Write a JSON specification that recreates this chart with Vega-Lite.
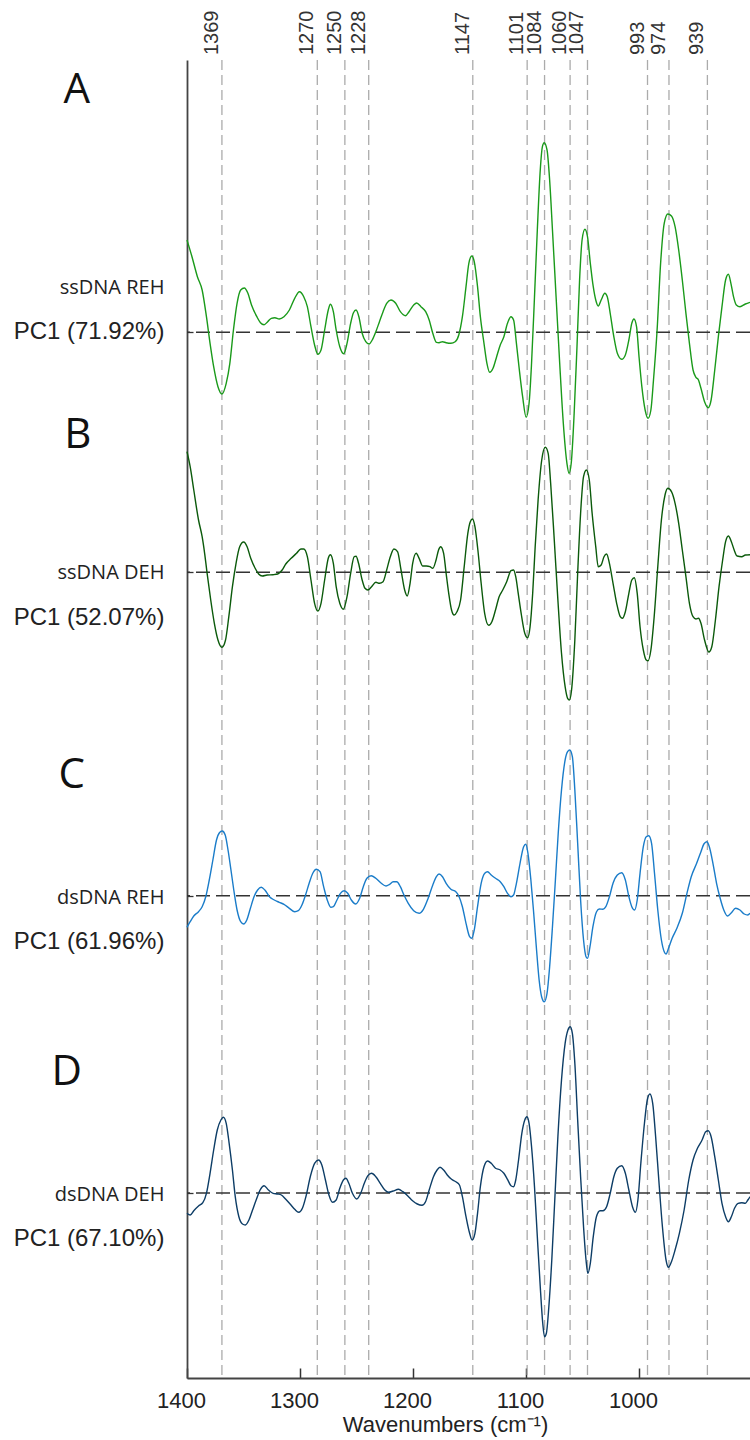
{
  "$schema": "https://vega.github.io/schema/vega-lite/v6.json",
  "width": 563,
  "height": 1318,
  "autosize": {"type": "none"},
  "padding": {"left": 187, "top": 60, "right": 0, "bottom": 62},
  "config": {"view": {"stroke": null}, "font": "Liberation Sans"},
  "datasets": {
    "peaks": [
      {"x": 1369.1, "label": "1369"}, {"x": 1284.7, "label": "1270"}, {"x": 1260.3, "label": "1250"},
      {"x": 1239.2, "label": "1228"}, {"x": 1147.1, "label": "1147"}, {"x": 1099.0, "label": "1101"},
      {"x": 1083.6, "label": "1084"}, {"x": 1061.0, "label": "1060"}, {"x": 1045.6, "label": "1047"},
      {"x": 992.5, "label": "993"}, {"x": 973.5, "label": "974"}, {"x": 939.5, "label": "939"}
    ],
    "base": [
      {"s": "A", "y": 10.457}, {"s": "B", "y": 8.057}, {"s": "C", "y": 4.823}, {"s": "D", "y": 1.85}
    ],
    "names": [
      {"t": "ssDNA REH", "y": 10.90}, {"t": "ssDNA DEH", "y": 8.05},
      {"t": "dsDNA REH", "y": 4.80}, {"t": "dsDNA DEH", "y": 1.83}
    ],
    "pcs": [
      {"t": "PC1 (71.92%)", "y": 10.46}, {"t": "PC1 (52.07%)", "y": 7.60},
      {"t": "PC1 (61.96%)", "y": 4.36}, {"t": "PC1 (67.10%)", "y": 1.39}
    ],
    "letters": [
      {"t": "A", "x": 1497.5, "y": 12.88}, {"t": "B", "x": 1496.7, "y": 9.43},
      {"t": "C", "x": 1502.0, "y": 6.03}, {"t": "D", "x": 1506.4, "y": 3.06}
    ],
    "spec": [
      {"s":"A","x":1400,"y":11.38},{"s":"A","x":1395.6,"y":11.213},{"s":"A","x":1390.8,"y":11.013},{"s":"A","x":1386.6,"y":10.88},{"s":"A","x":1382.8,"y":10.613},{"s":"A","x":1379.6,"y":10.347},{"s":"A","x":1376.4,"y":10.113},{"s":"A","x":1372.6,"y":9.913},{"s":"A","x":1369.1,"y":9.84},{"s":"A","x":1365.3,"y":9.947},{"s":"A","x":1362.1,"y":10.147},{"s":"A","x":1358.9,"y":10.48},{"s":"A","x":1355.7,"y":10.747},{"s":"A","x":1352.5,"y":10.88},{"s":"A","x":1349.3,"y":10.9},{"s":"A","x":1346.1,"y":10.847},{"s":"A","x":1342.9,"y":10.73},{"s":"A","x":1338.2,"y":10.613},{"s":"A","x":1335.0,"y":10.553},{"s":"A","x":1331.8,"y":10.533},{"s":"A","x":1328.6,"y":10.563},{"s":"A","x":1325.4,"y":10.597},{"s":"A","x":1322.2,"y":10.603},{"s":"A","x":1318.4,"y":10.59},{"s":"A","x":1314.2,"y":10.613},{"s":"A","x":1309.4,"y":10.68},{"s":"A","x":1304.7,"y":10.797},{"s":"A","x":1300.5,"y":10.863},{"s":"A","x":1296.7,"y":10.813},{"s":"A","x":1293.5,"y":10.713},{"s":"A","x":1290.3,"y":10.513},{"s":"A","x":1287.1,"y":10.33},{"s":"A","x":1284.2,"y":10.237},{"s":"A","x":1281.4,"y":10.28},{"s":"A","x":1278.2,"y":10.48},{"s":"A","x":1275.0,"y":10.68},{"s":"A","x":1273.1,"y":10.737},{"s":"A","x":1270.5,"y":10.663},{"s":"A","x":1268.0,"y":10.48},{"s":"A","x":1264.8,"y":10.313},{"s":"A","x":1261.3,"y":10.243},{"s":"A","x":1258.4,"y":10.347},{"s":"A","x":1255.2,"y":10.547},{"s":"A","x":1252.7,"y":10.653},{"s":"A","x":1250.4,"y":10.68},{"s":"A","x":1247.9,"y":10.613},{"s":"A","x":1245.0,"y":10.447},{"s":"A","x":1241.8,"y":10.363},{"s":"A","x":1238.9,"y":10.34},{"s":"A","x":1236.1,"y":10.38},{"s":"A","x":1232.9,"y":10.463},{"s":"A","x":1229.7,"y":10.563},{"s":"A","x":1226.5,"y":10.663},{"s":"A","x":1223.3,"y":10.747},{"s":"A","x":1219.5,"y":10.78},{"s":"A","x":1215.3,"y":10.747},{"s":"A","x":1211.2,"y":10.663},{"s":"A","x":1206.7,"y":10.623},{"s":"A","x":1203.5,"y":10.663},{"s":"A","x":1199.4,"y":10.73},{"s":"A","x":1196.8,"y":10.75},{"s":"A","x":1193.0,"y":10.713},{"s":"A","x":1188.8,"y":10.663},{"s":"A","x":1185.7,"y":10.58},{"s":"A","x":1182.5,"y":10.447},{"s":"A","x":1179.3,"y":10.357},{"s":"A","x":1177.0,"y":10.353},{"s":"A","x":1173.9,"y":10.363},{"s":"A","x":1170.7,"y":10.353},{"s":"A","x":1166.5,"y":10.347},{"s":"A","x":1162.7,"y":10.363},{"s":"A","x":1159.5,"y":10.43},{"s":"A","x":1156.3,"y":10.613},{"s":"A","x":1153.1,"y":10.913},{"s":"A","x":1150.6,"y":11.147},{"s":"A","x":1148.0,"y":11.22},{"s":"A","x":1145.8,"y":11.163},{"s":"A","x":1142.9,"y":10.913},{"s":"A","x":1140.4,"y":10.613},{"s":"A","x":1137.2,"y":10.347},{"s":"A","x":1134.6,"y":10.147},{"s":"A","x":1132.1,"y":10.057},{"s":"A","x":1129.2,"y":10.097},{"s":"A","x":1126.0,"y":10.213},{"s":"A","x":1122.8,"y":10.33},{"s":"A","x":1119.6,"y":10.413},{"s":"A","x":1116.4,"y":10.547},{"s":"A","x":1113.3,"y":10.613},{"s":"A","x":1111.0,"y":10.58},{"s":"A","x":1108.5,"y":10.347},{"s":"A","x":1105.9,"y":10.08},{"s":"A","x":1103.0,"y":9.813},{"s":"A","x":1099.9,"y":9.607},{"s":"A","x":1097.3,"y":9.747},{"s":"A","x":1095.1,"y":10.147},{"s":"A","x":1092.5,"y":10.813},{"s":"A","x":1090.0,"y":11.48},{"s":"A","x":1087.4,"y":12.08},{"s":"A","x":1085.5,"y":12.313},{"s":"A","x":1083.9,"y":12.353},{"s":"A","x":1081.4,"y":12.28},{"s":"A","x":1079.1,"y":11.98},{"s":"A","x":1076.6,"y":11.48},{"s":"A","x":1073.4,"y":10.813},{"s":"A","x":1070.2,"y":10.147},{"s":"A","x":1067.0,"y":9.547},{"s":"A","x":1063.8,"y":9.147},{"s":"A","x":1061.9,"y":9.047},{"s":"A","x":1060.0,"y":9.147},{"s":"A","x":1057.4,"y":9.647},{"s":"A","x":1054.9,"y":10.313},{"s":"A","x":1052.6,"y":10.98},{"s":"A","x":1050.4,"y":11.38},{"s":"A","x":1047.9,"y":11.487},{"s":"A","x":1045.6,"y":11.413},{"s":"A","x":1043.1,"y":11.147},{"s":"A","x":1040.5,"y":10.913},{"s":"A","x":1038.3,"y":10.78},{"s":"A","x":1036.1,"y":10.72},{"s":"A","x":1033.5,"y":10.78},{"s":"A","x":1030.3,"y":10.847},{"s":"A","x":1028.1,"y":10.813},{"s":"A","x":1025.5,"y":10.647},{"s":"A","x":1022.3,"y":10.413},{"s":"A","x":1019.2,"y":10.247},{"s":"A","x":1015.3,"y":10.187},{"s":"A","x":1012.1,"y":10.23},{"s":"A","x":1009.0,"y":10.38},{"s":"A","x":1006.4,"y":10.547},{"s":"A","x":1004.5,"y":10.59},{"s":"A","x":1002.2,"y":10.513},{"s":"A","x":1000.0,"y":10.213},{"s":"A","x":997.5,"y":9.913},{"s":"A","x":994.6,"y":9.68},{"s":"A","x":992.0,"y":9.597},{"s":"A","x":989.5,"y":9.68},{"s":"A","x":987.2,"y":9.98},{"s":"A","x":984.0,"y":10.48},{"s":"A","x":980.9,"y":11.147},{"s":"A","x":977.7,"y":11.547},{"s":"A","x":974.5,"y":11.64},{"s":"A","x":971.3,"y":11.62},{"s":"A","x":968.1,"y":11.513},{"s":"A","x":964.9,"y":11.28},{"s":"A","x":961.7,"y":10.98},{"s":"A","x":958.5,"y":10.647},{"s":"A","x":955.4,"y":10.347},{"s":"A","x":952.2,"y":10.08},{"s":"A","x":949.6,"y":10.007},{"s":"A","x":947.4,"y":9.98},{"s":"A","x":945.2,"y":9.897},{"s":"A","x":942.0,"y":9.763},{"s":"A","x":938.8,"y":9.703},{"s":"A","x":936.2,"y":9.78},{"s":"A","x":933.0,"y":10.08},{"s":"A","x":929.8,"y":10.413},{"s":"A","x":926.6,"y":10.713},{"s":"A","x":923.4,"y":10.98},{"s":"A","x":920.9,"y":11.037},{"s":"A","x":918.7,"y":10.947},{"s":"A","x":916.4,"y":10.813},{"s":"A","x":913.9,"y":10.73},{"s":"A","x":910.7,"y":10.713},{"s":"A","x":905.9,"y":10.74},{"s":"A","x":901.8,"y":10.757},
      {"s":"B","x":1400,"y":9.263},{"s":"B","x":1397.2,"y":9.113},{"s":"B","x":1394.0,"y":8.88},{"s":"B","x":1389.8,"y":8.58},{"s":"B","x":1386.6,"y":8.413},{"s":"B","x":1384.4,"y":8.247},{"s":"B","x":1382.2,"y":8.047},{"s":"B","x":1379.0,"y":7.78},{"s":"B","x":1375.8,"y":7.547},{"s":"B","x":1372.6,"y":7.38},{"s":"B","x":1369.1,"y":7.307},{"s":"B","x":1365.9,"y":7.38},{"s":"B","x":1363.0,"y":7.613},{"s":"B","x":1359.8,"y":7.913},{"s":"B","x":1356.6,"y":8.147},{"s":"B","x":1353.4,"y":8.313},{"s":"B","x":1349.9,"y":8.36},{"s":"B","x":1346.8,"y":8.313},{"s":"B","x":1343.6,"y":8.197},{"s":"B","x":1339.7,"y":8.097},{"s":"B","x":1336.6,"y":8.04},{"s":"B","x":1333.4,"y":8.02},{"s":"B","x":1329.2,"y":8.03},{"s":"B","x":1323.8,"y":8.033},{"s":"B","x":1319.7,"y":8.04},{"s":"B","x":1315.8,"y":8.08},{"s":"B","x":1312.6,"y":8.14},{"s":"B","x":1307.8,"y":8.197},{"s":"B","x":1303.1,"y":8.247},{"s":"B","x":1299.2,"y":8.29},{"s":"B","x":1296.7,"y":8.29},{"s":"B","x":1293.5,"y":8.213},{"s":"B","x":1290.3,"y":7.98},{"s":"B","x":1287.1,"y":7.747},{"s":"B","x":1284.2,"y":7.67},{"s":"B","x":1281.4,"y":7.747},{"s":"B","x":1278.2,"y":7.98},{"s":"B","x":1275.0,"y":8.197},{"s":"B","x":1273.1,"y":8.233},{"s":"B","x":1270.5,"y":8.147},{"s":"B","x":1268.0,"y":7.913},{"s":"B","x":1264.8,"y":7.747},{"s":"B","x":1261.6,"y":7.687},{"s":"B","x":1258.4,"y":7.813},{"s":"B","x":1255.2,"y":8.047},{"s":"B","x":1252.0,"y":8.213},{"s":"B","x":1250.4,"y":8.217},{"s":"B","x":1248.2,"y":8.147},{"s":"B","x":1245.0,"y":7.98},{"s":"B","x":1242.5,"y":7.897},{"s":"B","x":1239.9,"y":7.88},{"s":"B","x":1236.7,"y":7.913},{"s":"B","x":1232.9,"y":7.957},{"s":"B","x":1229.7,"y":7.947},{"s":"B","x":1226.5,"y":7.963},{"s":"B","x":1223.3,"y":8.08},{"s":"B","x":1220.1,"y":8.213},{"s":"B","x":1216.9,"y":8.29},{"s":"B","x":1213.7,"y":8.263},{"s":"B","x":1210.6,"y":8.08},{"s":"B","x":1207.4,"y":7.88},{"s":"B","x":1205.1,"y":7.82},{"s":"B","x":1202.6,"y":7.947},{"s":"B","x":1200.3,"y":8.147},{"s":"B","x":1197.2,"y":8.247},{"s":"B","x":1194.6,"y":8.197},{"s":"B","x":1191.4,"y":8.12},{"s":"B","x":1188.2,"y":8.12},{"s":"B","x":1185.0,"y":8.113},{"s":"B","x":1182.5,"y":8.097},{"s":"B","x":1179.6,"y":8.18},{"s":"B","x":1177.4,"y":8.28},{"s":"B","x":1175.5,"y":8.313},{"s":"B","x":1172.9,"y":8.247},{"s":"B","x":1170.7,"y":8.047},{"s":"B","x":1168.4,"y":7.847},{"s":"B","x":1165.9,"y":7.68},{"s":"B","x":1163.6,"y":7.63},{"s":"B","x":1161.1,"y":7.663},{"s":"B","x":1157.9,"y":7.78},{"s":"B","x":1154.7,"y":8.113},{"s":"B","x":1151.5,"y":8.447},{"s":"B","x":1149.3,"y":8.563},{"s":"B","x":1147.4,"y":8.59},{"s":"B","x":1145.2,"y":8.513},{"s":"B","x":1142.6,"y":8.28},{"s":"B","x":1139.7,"y":7.947},{"s":"B","x":1136.6,"y":7.647},{"s":"B","x":1133.0,"y":7.527},{"s":"B","x":1130.2,"y":7.563},{"s":"B","x":1127.0,"y":7.68},{"s":"B","x":1123.8,"y":7.813},{"s":"B","x":1120.6,"y":7.88},{"s":"B","x":1117.1,"y":7.963},{"s":"B","x":1113.3,"y":8.073},{"s":"B","x":1111.0,"y":8.08},{"s":"B","x":1109.1,"y":8.013},{"s":"B","x":1106.9,"y":7.847},{"s":"B","x":1104.3,"y":7.647},{"s":"B","x":1101.1,"y":7.447},{"s":"B","x":1098.6,"y":7.403},{"s":"B","x":1096.4,"y":7.513},{"s":"B","x":1094.1,"y":7.847},{"s":"B","x":1091.9,"y":8.313},{"s":"B","x":1089.3,"y":8.78},{"s":"B","x":1086.1,"y":9.18},{"s":"B","x":1082.9,"y":9.307},{"s":"B","x":1080.4,"y":9.247},{"s":"B","x":1078.2,"y":8.947},{"s":"B","x":1075.0,"y":8.38},{"s":"B","x":1071.8,"y":7.78},{"s":"B","x":1068.6,"y":7.247},{"s":"B","x":1065.4,"y":6.913},{"s":"B","x":1063.2,"y":6.797},{"s":"B","x":1061.6,"y":6.78},{"s":"B","x":1059.7,"y":6.88},{"s":"B","x":1056.8,"y":7.38},{"s":"B","x":1054.3,"y":8.047},{"s":"B","x":1051.7,"y":8.647},{"s":"B","x":1049.1,"y":9.013},{"s":"B","x":1046.6,"y":9.08},{"s":"B","x":1044.0,"y":8.98},{"s":"B","x":1041.5,"y":8.647},{"s":"B","x":1038.3,"y":8.313},{"s":"B","x":1036.1,"y":8.113},{"s":"B","x":1033.5,"y":8.13},{"s":"B","x":1031.0,"y":8.213},{"s":"B","x":1028.7,"y":8.24},{"s":"B","x":1026.2,"y":8.147},{"s":"B","x":1023.0,"y":7.947},{"s":"B","x":1019.8,"y":7.747},{"s":"B","x":1016.6,"y":7.613},{"s":"B","x":1014.7,"y":7.597},{"s":"B","x":1012.1,"y":7.663},{"s":"B","x":1009.0,"y":7.847},{"s":"B","x":1006.4,"y":7.98},{"s":"B","x":1004.2,"y":8.003},{"s":"B","x":1001.6,"y":7.847},{"s":"B","x":999.1,"y":7.513},{"s":"B","x":996.2,"y":7.28},{"s":"B","x":993.6,"y":7.18},{"s":"B","x":992.0,"y":7.173},{"s":"B","x":989.5,"y":7.28},{"s":"B","x":986.6,"y":7.613},{"s":"B","x":983.4,"y":8.113},{"s":"B","x":980.2,"y":8.58},{"s":"B","x":977.0,"y":8.83},{"s":"B","x":974.5,"y":8.897},{"s":"B","x":971.3,"y":8.863},{"s":"B","x":968.1,"y":8.747},{"s":"B","x":964.9,"y":8.547},{"s":"B","x":961.7,"y":8.28},{"s":"B","x":958.5,"y":8.013},{"s":"B","x":955.4,"y":7.747},{"s":"B","x":952.2,"y":7.613},{"s":"B","x":949.6,"y":7.59},{"s":"B","x":947.4,"y":7.597},{"s":"B","x":945.2,"y":7.547},{"s":"B","x":942.0,"y":7.38},{"s":"B","x":938.2,"y":7.26},{"s":"B","x":935.6,"y":7.313},{"s":"B","x":932.4,"y":7.58},{"s":"B","x":929.2,"y":7.913},{"s":"B","x":926.0,"y":8.18},{"s":"B","x":923.4,"y":8.363},{"s":"B","x":920.9,"y":8.42},{"s":"B","x":918.3,"y":8.363},{"s":"B","x":915.8,"y":8.28},{"s":"B","x":913.2,"y":8.22},{"s":"B","x":909.1,"y":8.213},{"s":"B","x":905.9,"y":8.23},{"s":"B","x":901.8,"y":8.233},
      {"s":"C","x":1400,"y":4.507},{"s":"C","x":1397.2,"y":4.563},{"s":"C","x":1394.0,"y":4.62},{"s":"C","x":1389.8,"y":4.663},{"s":"C","x":1386.6,"y":4.713},{"s":"C","x":1383.4,"y":4.813},{"s":"C","x":1380.3,"y":4.98},{"s":"C","x":1377.1,"y":5.18},{"s":"C","x":1373.9,"y":5.38},{"s":"C","x":1371.3,"y":5.453},{"s":"C","x":1368.8,"y":5.47},{"s":"C","x":1366.2,"y":5.43},{"s":"C","x":1363.7,"y":5.28},{"s":"C","x":1361.1,"y":5.08},{"s":"C","x":1358.6,"y":4.88},{"s":"C","x":1355.7,"y":4.68},{"s":"C","x":1352.5,"y":4.563},{"s":"C","x":1349.9,"y":4.54},{"s":"C","x":1347.1,"y":4.58},{"s":"C","x":1343.9,"y":4.697},{"s":"C","x":1340.7,"y":4.813},{"s":"C","x":1337.5,"y":4.88},{"s":"C","x":1334.3,"y":4.907},{"s":"C","x":1331.1,"y":4.88},{"s":"C","x":1327.0,"y":4.813},{"s":"C","x":1322.8,"y":4.78},{"s":"C","x":1318.4,"y":4.757},{"s":"C","x":1314.2,"y":4.737},{"s":"C","x":1309.4,"y":4.697},{"s":"C","x":1304.7,"y":4.663},{"s":"C","x":1301.5,"y":4.673},{"s":"C","x":1298.3,"y":4.73},{"s":"C","x":1295.1,"y":4.83},{"s":"C","x":1291.9,"y":4.947},{"s":"C","x":1288.7,"y":5.047},{"s":"C","x":1285.5,"y":5.087},{"s":"C","x":1282.3,"y":5.063},{"s":"C","x":1279.1,"y":4.913},{"s":"C","x":1275.9,"y":4.78},{"s":"C","x":1272.8,"y":4.707},{"s":"C","x":1270.5,"y":4.713},{"s":"C","x":1267.3,"y":4.78},{"s":"C","x":1264.2,"y":4.847},{"s":"C","x":1261.0,"y":4.873},{"s":"C","x":1257.8,"y":4.847},{"s":"C","x":1254.6,"y":4.78},{"s":"C","x":1250.7,"y":4.74},{"s":"C","x":1247.2,"y":4.797},{"s":"C","x":1244.0,"y":4.913},{"s":"C","x":1240.8,"y":4.997},{"s":"C","x":1237.0,"y":5.023},{"s":"C","x":1232.9,"y":4.997},{"s":"C","x":1228.1,"y":4.947},{"s":"C","x":1223.9,"y":4.92},{"s":"C","x":1220.7,"y":4.937},{"s":"C","x":1217.6,"y":4.963},{"s":"C","x":1214.4,"y":4.963},{"s":"C","x":1211.2,"y":4.913},{"s":"C","x":1208.0,"y":4.83},{"s":"C","x":1204.2,"y":4.747},{"s":"C","x":1199.4,"y":4.673},{"s":"C","x":1194.6,"y":4.647},{"s":"C","x":1190.8,"y":4.687},{"s":"C","x":1186.6,"y":4.797},{"s":"C","x":1182.5,"y":4.93},{"s":"C","x":1179.3,"y":5.013},{"s":"C","x":1177.0,"y":5.04},{"s":"C","x":1173.9,"y":5.013},{"s":"C","x":1170.7,"y":4.947},{"s":"C","x":1166.5,"y":4.887},{"s":"C","x":1162.1,"y":4.863},{"s":"C","x":1159.5,"y":4.82},{"s":"C","x":1156.3,"y":4.713},{"s":"C","x":1153.1,"y":4.547},{"s":"C","x":1149.9,"y":4.413},{"s":"C","x":1148.0,"y":4.397},{"s":"C","x":1145.8,"y":4.48},{"s":"C","x":1142.9,"y":4.713},{"s":"C","x":1139.7,"y":4.947},{"s":"C","x":1136.5,"y":5.047},{"s":"C","x":1134.0,"y":5.063},{"s":"C","x":1130.8,"y":5.03},{"s":"C","x":1127.0,"y":4.997},{"s":"C","x":1122.8,"y":4.963},{"s":"C","x":1119.6,"y":4.913},{"s":"C","x":1116.4,"y":4.847},{"s":"C","x":1113.3,"y":4.813},{"s":"C","x":1111.0,"y":4.83},{"s":"C","x":1108.5,"y":4.947},{"s":"C","x":1105.3,"y":5.147},{"s":"C","x":1102.1,"y":5.313},{"s":"C","x":1100.2,"y":5.337},{"s":"C","x":1098.3,"y":5.247},{"s":"C","x":1095.7,"y":4.98},{"s":"C","x":1093.2,"y":4.647},{"s":"C","x":1090.9,"y":4.313},{"s":"C","x":1088.4,"y":3.98},{"s":"C","x":1086.2,"y":3.813},{"s":"C","x":1083.9,"y":3.763},{"s":"C","x":1081.4,"y":3.847},{"s":"C","x":1079.1,"y":4.113},{"s":"C","x":1076.6,"y":4.513},{"s":"C","x":1074.0,"y":4.98},{"s":"C","x":1071.5,"y":5.447},{"s":"C","x":1068.6,"y":5.88},{"s":"C","x":1065.4,"y":6.18},{"s":"C","x":1063.2,"y":6.263},{"s":"C","x":1061.3,"y":6.28},{"s":"C","x":1059.0,"y":6.213},{"s":"C","x":1056.8,"y":5.88},{"s":"C","x":1054.3,"y":5.347},{"s":"C","x":1051.7,"y":4.78},{"s":"C","x":1049.1,"y":4.38},{"s":"C","x":1046.9,"y":4.213},{"s":"C","x":1045.6,"y":4.197},{"s":"C","x":1043.4,"y":4.313},{"s":"C","x":1040.8,"y":4.513},{"s":"C","x":1037.6,"y":4.663},{"s":"C","x":1035.1,"y":4.69},{"s":"C","x":1031.9,"y":4.687},{"s":"C","x":1029.4,"y":4.713},{"s":"C","x":1026.2,"y":4.813},{"s":"C","x":1023.0,"y":4.947},{"s":"C","x":1019.2,"y":5.03},{"s":"C","x":1015.3,"y":5.053},{"s":"C","x":1012.1,"y":4.98},{"s":"C","x":1009.0,"y":4.813},{"s":"C","x":1006.4,"y":4.713},{"s":"C","x":1003.9,"y":4.68},{"s":"C","x":1001.6,"y":4.78},{"s":"C","x":999.1,"y":5.047},{"s":"C","x":996.2,"y":5.313},{"s":"C","x":993.6,"y":5.413},{"s":"C","x":991.4,"y":5.423},{"s":"C","x":988.9,"y":5.347},{"s":"C","x":986.3,"y":5.047},{"s":"C","x":983.4,"y":4.68},{"s":"C","x":980.2,"y":4.38},{"s":"C","x":977.7,"y":4.263},{"s":"C","x":976.1,"y":4.24},{"s":"C","x":973.9,"y":4.297},{"s":"C","x":970.7,"y":4.397},{"s":"C","x":966.5,"y":4.497},{"s":"C","x":961.7,"y":4.647},{"s":"C","x":957.6,"y":4.847},{"s":"C","x":953.8,"y":5.013},{"s":"C","x":949.0,"y":5.147},{"s":"C","x":945.2,"y":5.263},{"s":"C","x":942.6,"y":5.34},{"s":"C","x":940.0,"y":5.363},{"s":"C","x":937.8,"y":5.313},{"s":"C","x":934.6,"y":5.147},{"s":"C","x":931.4,"y":4.947},{"s":"C","x":928.2,"y":4.797},{"s":"C","x":925.0,"y":4.68},{"s":"C","x":921.8,"y":4.62},{"s":"C","x":918.7,"y":4.647},{"s":"C","x":914.5,"y":4.697},{"s":"C","x":910.7,"y":4.68},{"s":"C","x":906.9,"y":4.64},{"s":"C","x":903.7,"y":4.63},{"s":"C","x":901.8,"y":4.647},
      {"s":"D","x":1400,"y":1.647},{"s":"D","x":1397.2,"y":1.63},{"s":"D","x":1394.0,"y":1.673},{"s":"D","x":1389.8,"y":1.72},{"s":"D","x":1386.0,"y":1.753},{"s":"D","x":1382.8,"y":1.847},{"s":"D","x":1379.6,"y":2.047},{"s":"D","x":1376.4,"y":2.28},{"s":"D","x":1373.2,"y":2.48},{"s":"D","x":1370.0,"y":2.58},{"s":"D","x":1367.8,"y":2.607},{"s":"D","x":1365.3,"y":2.547},{"s":"D","x":1362.7,"y":2.347},{"s":"D","x":1359.8,"y":2.08},{"s":"D","x":1357.3,"y":1.813},{"s":"D","x":1354.1,"y":1.613},{"s":"D","x":1350.9,"y":1.54},{"s":"D","x":1348.4,"y":1.53},{"s":"D","x":1345.2,"y":1.58},{"s":"D","x":1342.0,"y":1.68},{"s":"D","x":1338.8,"y":1.78},{"s":"D","x":1335.0,"y":1.887},{"s":"D","x":1331.8,"y":1.923},{"s":"D","x":1327.9,"y":1.88},{"s":"D","x":1323.8,"y":1.847},{"s":"D","x":1319.7,"y":1.84},{"s":"D","x":1316.5,"y":1.83},{"s":"D","x":1312.6,"y":1.787},{"s":"D","x":1308.8,"y":1.74},{"s":"D","x":1304.7,"y":1.687},{"s":"D","x":1301.1,"y":1.657},{"s":"D","x":1297.9,"y":1.697},{"s":"D","x":1294.8,"y":1.813},{"s":"D","x":1290.9,"y":2.013},{"s":"D","x":1287.1,"y":2.147},{"s":"D","x":1283.6,"y":2.18},{"s":"D","x":1280.7,"y":2.13},{"s":"D","x":1277.5,"y":1.98},{"s":"D","x":1274.4,"y":1.83},{"s":"D","x":1271.2,"y":1.757},{"s":"D","x":1268.0,"y":1.78},{"s":"D","x":1264.8,"y":1.897},{"s":"D","x":1261.6,"y":1.98},{"s":"D","x":1259.4,"y":1.997},{"s":"D","x":1256.8,"y":1.947},{"s":"D","x":1253.6,"y":1.847},{"s":"D","x":1249.8,"y":1.79},{"s":"D","x":1246.3,"y":1.847},{"s":"D","x":1243.1,"y":1.947},{"s":"D","x":1239.9,"y":2.023},{"s":"D","x":1236.7,"y":2.047},{"s":"D","x":1232.9,"y":2.013},{"s":"D","x":1229.0,"y":1.947},{"s":"D","x":1224.9,"y":1.88},{"s":"D","x":1221.7,"y":1.857},{"s":"D","x":1217.6,"y":1.87},{"s":"D","x":1212.8,"y":1.887},{"s":"D","x":1209.0,"y":1.863},{"s":"D","x":1204.8,"y":1.823},{"s":"D","x":1200.4,"y":1.773},{"s":"D","x":1196.2,"y":1.74},{"s":"D","x":1192.1,"y":1.727},{"s":"D","x":1188.9,"y":1.763},{"s":"D","x":1185.7,"y":1.88},{"s":"D","x":1181.9,"y":2.013},{"s":"D","x":1178.7,"y":2.08},{"s":"D","x":1176.1,"y":2.107},{"s":"D","x":1172.9,"y":2.08},{"s":"D","x":1169.7,"y":2.03},{"s":"D","x":1165.9,"y":1.987},{"s":"D","x":1162.1,"y":1.963},{"s":"D","x":1158.9,"y":1.93},{"s":"D","x":1156.3,"y":1.813},{"s":"D","x":1153.1,"y":1.613},{"s":"D","x":1149.9,"y":1.447},{"s":"D","x":1147.7,"y":1.38},{"s":"D","x":1145.2,"y":1.447},{"s":"D","x":1142.9,"y":1.647},{"s":"D","x":1140.4,"y":1.913},{"s":"D","x":1137.2,"y":2.113},{"s":"D","x":1134.0,"y":2.17},{"s":"D","x":1130.8,"y":2.147},{"s":"D","x":1127.0,"y":2.097},{"s":"D","x":1122.8,"y":2.08},{"s":"D","x":1119.6,"y":2.047},{"s":"D","x":1116.4,"y":1.987},{"s":"D","x":1113.3,"y":1.923},{"s":"D","x":1111.0,"y":1.913},{"s":"D","x":1109.1,"y":1.98},{"s":"D","x":1106.6,"y":2.18},{"s":"D","x":1103.7,"y":2.447},{"s":"D","x":1101.1,"y":2.58},{"s":"D","x":1099.2,"y":2.613},{"s":"D","x":1097.3,"y":2.547},{"s":"D","x":1095.1,"y":2.313},{"s":"D","x":1092.5,"y":1.913},{"s":"D","x":1090.0,"y":1.413},{"s":"D","x":1087.4,"y":0.913},{"s":"D","x":1085.2,"y":0.547},{"s":"D","x":1083.6,"y":0.413},{"s":"D","x":1082.0,"y":0.447},{"s":"D","x":1079.8,"y":0.713},{"s":"D","x":1077.2,"y":1.18},{"s":"D","x":1074.7,"y":1.747},{"s":"D","x":1071.8,"y":2.413},{"s":"D","x":1068.6,"y":2.98},{"s":"D","x":1065.4,"y":3.347},{"s":"D","x":1062.9,"y":3.48},{"s":"D","x":1060.9,"y":3.513},{"s":"D","x":1059.0,"y":3.447},{"s":"D","x":1056.8,"y":3.147},{"s":"D","x":1054.3,"y":2.58},{"s":"D","x":1051.7,"y":2.013},{"s":"D","x":1049.1,"y":1.513},{"s":"D","x":1046.9,"y":1.18},{"s":"D","x":1045.3,"y":1.047},{"s":"D","x":1043.1,"y":1.147},{"s":"D","x":1040.5,"y":1.413},{"s":"D","x":1037.7,"y":1.613},{"s":"D","x":1034.5,"y":1.673},{"s":"D","x":1031.9,"y":1.673},{"s":"D","x":1028.7,"y":1.713},{"s":"D","x":1025.5,"y":1.847},{"s":"D","x":1022.3,"y":2.013},{"s":"D","x":1019.2,"y":2.097},{"s":"D","x":1015.3,"y":2.123},{"s":"D","x":1012.1,"y":2.047},{"s":"D","x":1009.0,"y":1.88},{"s":"D","x":1005.8,"y":1.713},{"s":"D","x":1003.2,"y":1.657},{"s":"D","x":1001.0,"y":1.78},{"s":"D","x":998.4,"y":2.147},{"s":"D","x":995.2,"y":2.547},{"s":"D","x":992.7,"y":2.78},{"s":"D","x":990.4,"y":2.84},{"s":"D","x":987.9,"y":2.747},{"s":"D","x":985.3,"y":2.413},{"s":"D","x":982.5,"y":1.98},{"s":"D","x":979.3,"y":1.513},{"s":"D","x":976.1,"y":1.18},{"s":"D","x":973.9,"y":1.107},{"s":"D","x":971.3,"y":1.163},{"s":"D","x":968.1,"y":1.28},{"s":"D","x":964.3,"y":1.447},{"s":"D","x":960.1,"y":1.68},{"s":"D","x":956.0,"y":1.98},{"s":"D","x":952.2,"y":2.18},{"s":"D","x":948.3,"y":2.297},{"s":"D","x":944.2,"y":2.38},{"s":"D","x":941.0,"y":2.463},{"s":"D","x":938.8,"y":2.473},{"s":"D","x":936.2,"y":2.413},{"s":"D","x":933.0,"y":2.213},{"s":"D","x":929.8,"y":1.98},{"s":"D","x":926.6,"y":1.747},{"s":"D","x":923.4,"y":1.613},{"s":"D","x":920.9,"y":1.563},{"s":"D","x":918.3,"y":1.613},{"s":"D","x":915.5,"y":1.697},{"s":"D","x":912.3,"y":1.747},{"s":"D","x":909.1,"y":1.753},{"s":"D","x":905.9,"y":1.747},{"s":"D","x":903.7,"y":1.78},{"s":"D","x":901.8,"y":1.813}
    ]
  },
  "layer": [
    {
      "data": {"name": "peaks"},
      "mark": {"type": "rule", "color": "#ababab", "strokeWidth": 1.3, "strokeDash": [10, 5]},
      "encoding": {"x": {"field": "x", "type": "quantitative"}}
    },
    {
      "data": {"name": "base"},
      "mark": {"type": "rule", "color": "#333333", "strokeWidth": 1.5, "strokeDash": [14, 6]},
      "encoding": {"y": {"field": "y", "type": "quantitative", "title": null}}
    },
    {
      "data": {"name": "spec"},
      "mark": {"type": "line", "strokeWidth": 1.4, "interpolate": "monotone"},
      "encoding": {
        "x": {
          "field": "x", "type": "quantitative",
          "scale": {"domain": [901.8, 1400], "reverse": true, "nice": false, "zero": false},
          "axis": {
            "values": [1000, 1100, 1200, 1300, 1400], "format": "d", "grid": false,
            "labelFont": "Liberation Sans", "labelFontSize": 22, "labelColor": "#222222",
            "labelFlush": false, "labelOverlap": false, "labelPadding": 22, "labelOffset": -6,
            "tickSize": -10, "tickColor": "#333333", "tickWidth": 1.5,
            "domainColor": "#444444", "domainWidth": 1.8,
            "title": "Wavenumbers (cm⁻¹)", "titleFont": "Liberation Sans", "titleFontSize": 22,
            "titleFontWeight": "normal", "titleColor": "#222222", "titlePadding": 3, "titleX": 258
          }
        },
        "y": {
          "field": "y", "type": "quantitative", "title": null,
          "scale": {"domain": [0, 13.18], "nice": false, "zero": false},
          "axis": {
            "values": [10.457, 8.057, 4.823, 1.85], "labels": false, "grid": false,
            "tickSize": -6, "tickColor": "#333333", "tickWidth": 1.3,
            "domainColor": "#444444", "domainWidth": 1.8
          }
        },
        "color": {
          "field": "s", "type": "nominal", "legend": null,
          "scale": {"domain": ["A", "B", "C", "D"], "range": ["#1a9a1a", "#0b5a0b", "#1a7cc9", "#0d3d66"]}
        }
      }
    },
    {
      "data": {"name": "peaks"},
      "mark": {"type": "text", "angle": 270, "align": "left", "baseline": "bottom", "dx": 5, "font": "Liberation Sans", "fontSize": 20, "color": "#333333"},
      "encoding": {
        "x": {"field": "x", "type": "quantitative"},
        "y": {"datum": 13.18, "type": "quantitative"},
        "text": {"field": "label"}
      }
    },
    {
      "data": {"name": "names"},
      "mark": {"type": "text", "align": "right", "baseline": "middle", "font": "Open Sans", "fontSize": 20, "color": "#222222"},
      "encoding": {
        "x": {"datum": 1420, "type": "quantitative"},
        "y": {"field": "y", "type": "quantitative", "title": null},
        "text": {"field": "t"}
      }
    },
    {
      "data": {"name": "pcs"},
      "mark": {"type": "text", "align": "right", "baseline": "middle", "font": "Liberation Sans", "fontSize": 24, "color": "#222222"},
      "encoding": {
        "x": {"datum": 1420, "type": "quantitative"},
        "y": {"field": "y", "type": "quantitative", "title": null},
        "text": {"field": "t"}
      }
    },
    {
      "data": {"name": "letters"},
      "mark": {"type": "text", "align": "center", "baseline": "middle", "font": "Open Sans", "fontSize": 42, "color": "#111111"},
      "encoding": {
        "x": {"field": "x", "type": "quantitative"},
        "y": {"field": "y", "type": "quantitative", "title": null},
        "text": {"field": "t"}
      }
    }
  ]
}
